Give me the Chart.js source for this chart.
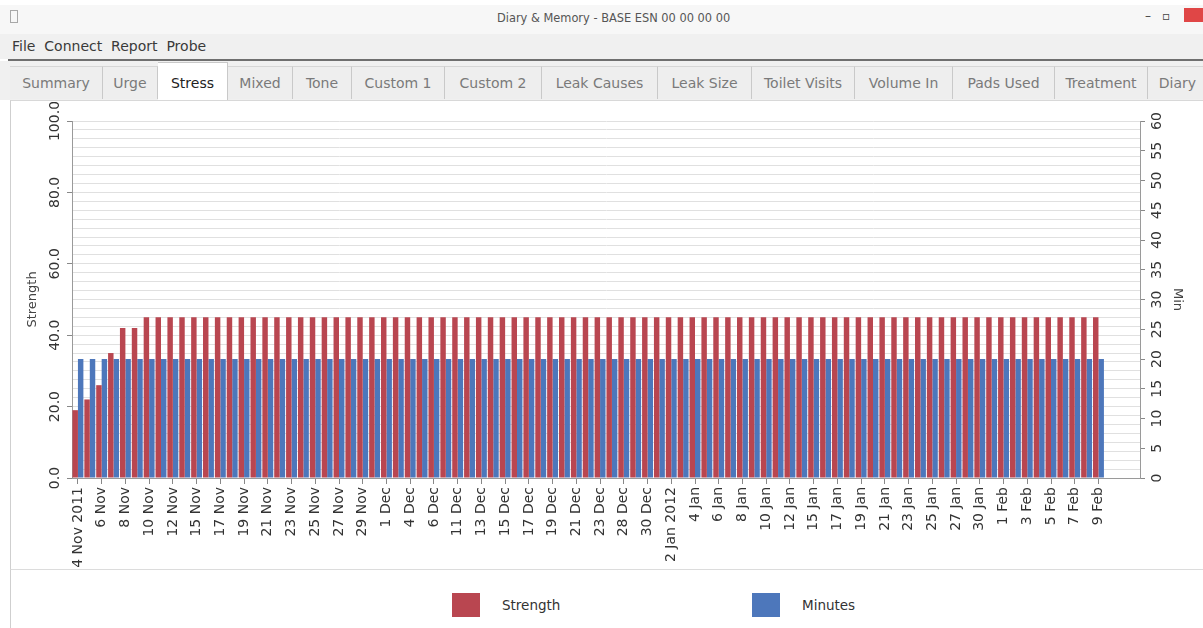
<!DOCTYPE html>
<html>
<head>
<meta charset="utf-8">
<title>Diary &amp; Memory - Stress</title>
<script src="https://cdn.jsdelivr.net/npm/chart.js@4.4.0/dist/chart.umd.min.js"></script>
<style>
  html, body { margin: 0; padding: 0; }
  body {
    width: 1203px; height: 628px; overflow: hidden; position: relative;
    background: #fff; font-family: "DejaVu Sans", sans-serif;
  }
  #titlebar { position: absolute; left: 0; top: 5px; width: 1203px; height: 29px; background: #f7f7f7; }
  #titlebar .appicon { position: absolute; left: 10px; top: 5px; width: 6px; height: 11px; border: 1px solid #a8a8a8; }
  #titlebar .wintitle { position: absolute; left: 497px; top: 6px; font-size: 11.4px; color: #555; white-space: nowrap; }
  #titlebar .winbtn { position: absolute; top: 4px; font-size: 12px; color: #444; }
  #titlebar .winclose { position: absolute; left: 1184px; top: 3px; width: 19px; height: 14px; background: #e04646; }
  #menubar {
    position: absolute; left: 0; top: 34px; width: 1203px; height: 25px; background: #f0f0f0;
    font-size: 14px; line-height: 25px; color: #3a3a3a; padding-left: 12px; box-sizing: border-box; white-space: nowrap;
  }
  #sep { position: absolute; left: 8px; top: 59px; width: 1195px; height: 2px; background: #6f6f6f; }
  #tabs { position: absolute; left: 0; top: 61px; width: 1203px; height: 39px; background: #f0f0f0; }
  .tab {
    position: absolute; top: 5px; height: 33px; line-height: 33px; text-align: center;
    font-size: 14px; color: #7a7a7a; background: #eeeeee; border-right: 1px solid #c9c9c9;
    border-top: 1px solid #d6d6d6; box-sizing: border-box; white-space: nowrap; overflow: hidden;
  }
  .tab.active { top: 1px; height: 38px; line-height: 40px; background: #fff; color: #222; border-top: 1px solid #c9c9c9; }
  #panel {
    position: absolute; left: 10px; top: 100px; width: 1193px; height: 469px; background: #fff;
    border-left: 1px solid #cfcfcf; border-top: 1px solid #d8d8d8; box-sizing: border-box;
  }
  #chartbox { position: absolute; left: 12px; top: 102px; width: 1191px; height: 466px; }
  #legend {
    position: absolute; left: 10px; top: 569px; width: 1193px; height: 59px; background: #fff;
    border-left: 1px solid #cfcfcf; border-top: 1px solid #dcdcdc; box-sizing: border-box;
  }
  .legend-item { position: absolute; top: 23px; display: flex; align-items: center; font-size: 13.5px; color: #333; white-space: nowrap; }
  .legend-item .swatch { display: inline-block; width: 28px; height: 24px; margin-right: 22px; }
</style>
</head>
<body>
  <div id="titlebar">
    <span class="appicon"></span>
    <span class="wintitle">Diary &amp; Memory - BASE ESN 00 00 00 00</span>
    <span class="winbtn" style="left:1145px">&ndash;</span>
    <span class="winbtn" style="left:1162px">&#9643;</span>
    <span class="winclose"></span>
  </div>
  <div id="menubar">File&nbsp; Connect&nbsp; Report&nbsp; Probe</div>
  <div id="sep"></div>
  <div id="tabs">
    <div class="tab" style="left:10px;width:93px">Summary</div>
    <div class="tab" style="left:103px;width:55px">Urge</div>
    <div class="tab active" style="left:158px;width:70px">Stress</div>
    <div class="tab" style="left:228px;width:65px">Mixed</div>
    <div class="tab" style="left:293px;width:59px">Tone</div>
    <div class="tab" style="left:352px;width:93px">Custom 1</div>
    <div class="tab" style="left:445px;width:97px">Custom 2</div>
    <div class="tab" style="left:542px;width:116px">Leak Causes</div>
    <div class="tab" style="left:658px;width:94px">Leak Size</div>
    <div class="tab" style="left:752px;width:103px">Toilet Visits</div>
    <div class="tab" style="left:855px;width:98px">Volume In</div>
    <div class="tab" style="left:953px;width:102px">Pads Used</div>
    <div class="tab" style="left:1055px;width:93px">Treatment</div>
    <div class="tab" style="left:1148px;width:60px">Diary</div>
  </div>
  <div id="panel"></div>
  <div id="chartbox"><canvas id="stress-chart"></canvas></div>
  <div id="legend"></div>

<script>
// labels shown under every other bar
const tickLabels = [
  '4 Nov 2011', '6 Nov', '8 Nov', '10 Nov', '12 Nov', '15 Nov', '17 Nov', '19 Nov', '21 Nov', '23 Nov',
  '25 Nov', '27 Nov', '29 Nov', '1 Dec', '4 Dec', '6 Dec', '11 Dec', '13 Dec', '15 Dec', '17 Dec',
  '19 Dec', '21 Dec', '23 Dec', '28 Dec', '30 Dec', '2 Jan 2012', '4 Jan', '6 Jan', '8 Jan', '10 Jan',
  '12 Jan', '15 Jan', '17 Jan', '19 Jan', '21 Jan', '23 Jan', '25 Jan', '27 Jan', '30 Jan', '1 Feb',
  '3 Feb', '5 Feb', '7 Feb', '9 Feb'
];

const strength = [
  19, 22, 26, 35, 42, 42, 45, 45, 45, 45,
  45, 45, 45, 45, 45, 45, 45, 45, 45, 45,
  45, 45, 45, 45, 45, 45, 45, 45, 45, 45,
  45, 45, 45, 45, 45, 45, 45, 45, 45, 45,
  45, 45, 45, 45, 45, 45, 45, 45, 45, 45,
  45, 45, 45, 45, 45, 45, 45, 45, 45, 45,
  45, 45, 45, 45, 45, 45, 45, 45, 45, 45,
  45, 45, 45, 45, 45, 45, 45, 45, 45, 45,
  45, 45, 45, 45, 45, 45, 45
];

const minutes = [
  20, 20, 20, 20, 20, 20, 20, 20, 20, 20,
  20, 20, 20, 20, 20, 20, 20, 20, 20, 20,
  20, 20, 20, 20, 20, 20, 20, 20, 20, 20,
  20, 20, 20, 20, 20, 20, 20, 20, 20, 20,
  20, 20, 20, 20, 20, 20, 20, 20, 20, 20,
  20, 20, 20, 20, 20, 20, 20, 20, 20, 20,
  20, 20, 20, 20, 20, 20, 20, 20, 20, 20,
  20, 20, 20, 20, 20, 20, 20, 20, 20, 20,
  20, 20, 20, 20, 20, 20, 20
];

const RED = '#b94650';
const BLUE = '#4d77bb';
const FONT = 'DejaVu Sans';
const TICK_TEXT = '#333';

// one slot per diary day, plus a few empty slots at the right end of the axis
const categories = [];
for (let i = 0; i < strength.length + 3; i++) {
  categories.push(i % 2 === 0 && tickLabels[i / 2] ? tickLabels[i / 2] : '');
}

Chart.defaults.font.family = FONT;
Chart.defaults.color = TICK_TEXT;

const chart = new Chart(document.getElementById('stress-chart'), {
  type: 'bar',
  data: {
    labels: categories,
    datasets: [
      { label: 'Strength', data: strength, yAxisID: 'y', backgroundColor: RED, categoryPercentage: 0.92, barPercentage: 1 },
      { label: 'Minutes', data: minutes, yAxisID: 'y1', backgroundColor: BLUE, categoryPercentage: 0.92, barPercentage: 1 }
    ]
  },
  options: {
    responsive: true,
    maintainAspectRatio: false,
    animation: false,
    layout: { padding: { top: 19, left: 0, right: 0, bottom: 0 } },
    plugins: { legend: { display: false }, tooltip: { enabled: false } },
    scales: {
      x: {
        offset: true,
        grid: {
          drawOnChartArea: false,
          offset: false,
          tickLength: 6,
          tickColor: (ctx) => (categories[ctx.index] ? '#888' : 'rgba(0,0,0,0)')
        },
        border: { color: '#9a9a9a' },
        ticks: { autoSkip: false, minRotation: 90, maxRotation: 90, padding: 3, color: TICK_TEXT, font: { size: 14 } },
        afterFit: (s) => { s.height = 90; }
      },
      y: {
        position: 'left',
        min: 0,
        max: 100,
        grid: {
          color: '#e0e0e0',
          tickLength: 5,
          tickColor: (ctx) => (ctx.tick && ctx.tick.value % 20 === 0 ? '#888' : 'rgba(0,0,0,0)')
        },
        border: { color: '#9a9a9a' },
        ticks: {
          stepSize: 2.5,
          autoSkip: false,
          minRotation: 90,
          maxRotation: 90,
          crossAlign: 'center',
          padding: -8,
          color: TICK_TEXT,
          font: { size: 14 },
          callback: (v) => (v % 20 === 0 ? v.toFixed(1) : '')
        },
        title: { display: true, text: 'Strength', color: '#444', font: { size: 13 }, padding: { top: 13, bottom: 0 } },
        afterFit: (s) => { s.width = 60; }
      },
      y1: {
        position: 'right',
        min: 0,
        max: 60,
        grid: { drawOnChartArea: false, tickLength: 5, tickColor: '#888' },
        border: { color: '#9a9a9a' },
        ticks: {
          stepSize: 5,
          autoSkip: false,
          minRotation: 90,
          maxRotation: 90,
          crossAlign: 'center',
          padding: 3,
          color: TICK_TEXT,
          font: { size: 14 }
        },
        title: { display: true, text: 'Min', color: '#444', font: { size: 13 }, padding: { top: 18, bottom: 0 } },
        afterFit: (s) => { s.width = 63; }
      }
    }
  }
});

// legend below the chart, built from the datasets
const legendEl = document.getElementById('legend');
chart.data.datasets.forEach((ds, i) => {
  const item = document.createElement('div');
  item.className = 'legend-item';
  item.style.left = (441 + i * 300) + 'px';
  item.innerHTML = `<span class="swatch" style="background:${ds.backgroundColor}"></span><span>${ds.label}</span>`;
  legendEl.appendChild(item);
});
</script>
</body>
</html>
